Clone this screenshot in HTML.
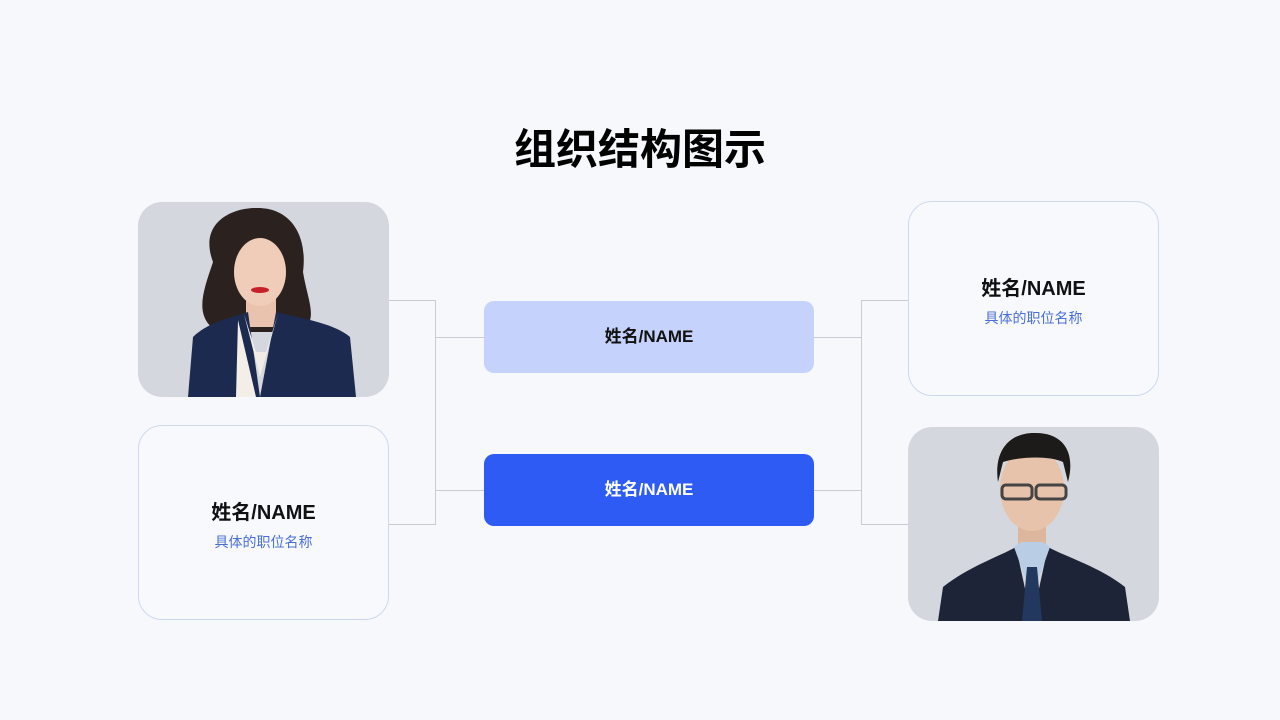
<!DOCTYPE html>
<html><head><meta charset="utf-8"><style>
body{margin:0;width:1280px;height:720px;background:#f6f8fc;position:relative;overflow:hidden;font-family:"Liberation Sans","Noto Sans CJK SC",sans-serif}
.a{position:absolute}
.title{left:0;width:1280px;top:122px;text-align:center;font-size:42px;font-weight:bold;color:#000;line-height:56px}
.card{position:absolute;width:251px;height:195px;border:1px solid #cdd9ee;border-radius:24px;background:#f7f9fd;box-sizing:border-box;text-align:center}
.card .n{margin-top:74px;font-size:20px;font-weight:bold;color:#111;line-height:26px}
.card .r{margin-top:7px;font-size:14px;color:#4a6fd6;line-height:18px}
.photo{position:absolute;width:251px;height:195px;border-radius:24px;background:#d4d7dd;overflow:hidden}
.box{position:absolute;left:484px;width:330px;border-radius:10px;text-align:center;font-size:17px;font-weight:bold}
.l{position:absolute;background:#c8ccd4}
</style></head><body>
<div class="a title">组织结构图示</div>

<div class="l" style="left:389px;top:300px;width:46px;height:1px"></div>
<div class="l" style="left:389px;top:524px;width:46px;height:1px"></div>
<div class="l" style="left:435px;top:300px;width:1px;height:225px"></div>
<div class="l" style="left:435px;top:337px;width:49px;height:1px"></div>
<div class="l" style="left:435px;top:490px;width:49px;height:1px"></div>
<div class="l" style="left:861px;top:300px;width:47px;height:1px"></div>
<div class="l" style="left:861px;top:524px;width:47px;height:1px"></div>
<div class="l" style="left:861px;top:300px;width:1px;height:225px"></div>
<div class="l" style="left:814px;top:337px;width:47px;height:1px"></div>
<div class="l" style="left:814px;top:490px;width:47px;height:1px"></div>

<div class="photo" style="left:138px;top:202px">
<svg width="251" height="195">
<path d="M75 60 C60 20 95 5 120 6 C150 6 170 30 165 70 C170 100 180 115 165 130 L80 130 C55 115 65 90 75 60Z" fill="#2b2220"/>
<rect x="108" y="85" width="30" height="40" fill="#e9c3ad"/>
<ellipse cx="122" cy="70" rx="26" ry="34" fill="#f0cdb8"/>
<path d="M100 50 C110 30 140 30 148 55 L150 40 C140 20 105 20 96 45Z" fill="#2b2220"/>
<ellipse cx="122" cy="88" rx="9" ry="3" fill="#c8202a"/>
<path d="M50 195 L55 135 C70 120 95 115 110 110 L122 195Z" fill="#1c2a4f"/>
<path d="M218 195 L212 135 C195 120 155 115 138 110 L122 195Z" fill="#1c2a4f"/>
<path d="M106 112 L122 175 L140 112 L128 150 L118 150Z" fill="#f1ede6"/>
<path d="M100 118 L118 195 L98 195Z" fill="#f3efe8"/>
</svg></div>

<div class="card" style="left:138px;top:425px"><div class="n">姓名/NAME</div><div class="r">具体的职位名称</div></div>
<div class="card" style="left:908px;top:201px"><div class="n">姓名/NAME</div><div class="r">具体的职位名称</div></div>

<div class="photo" style="left:908px;top:427px;height:194px">
<svg width="251" height="194">
<rect x="110" y="90" width="28" height="35" fill="#dcb79e"/>
<ellipse cx="124" cy="62" rx="32" ry="42" fill="#e6c3aa"/>
<path d="M90 55 C85 20 105 5 128 6 C155 6 168 25 160 55 L155 35 C140 28 110 30 95 35Z" fill="#1d1a1a"/>
<rect x="94" y="58" width="30" height="14" rx="4" fill="none" stroke="#444" stroke-width="3"/>
<rect x="128" y="58" width="30" height="14" rx="4" fill="none" stroke="#444" stroke-width="3"/>
<path d="M30 194 L35 160 C60 140 90 130 108 120 L124 194Z" fill="#1d2438"/>
<path d="M222 194 L217 160 C192 140 158 130 140 120 L124 194Z" fill="#1d2438"/>
<path d="M106 120 L124 170 L142 120 L135 115 L113 115Z" fill="#b9cde4"/>
<path d="M119 140 L129 140 L134 194 L114 194Z" fill="#23385f"/>
</svg></div>

<div class="box" style="top:301px;height:72px;line-height:72px;background:#c5d2fb;color:#111">姓名/NAME</div>
<div class="box" style="top:454px;height:72px;line-height:72px;background:#2f5bf5;color:#fff">姓名/NAME</div>
</body></html>
